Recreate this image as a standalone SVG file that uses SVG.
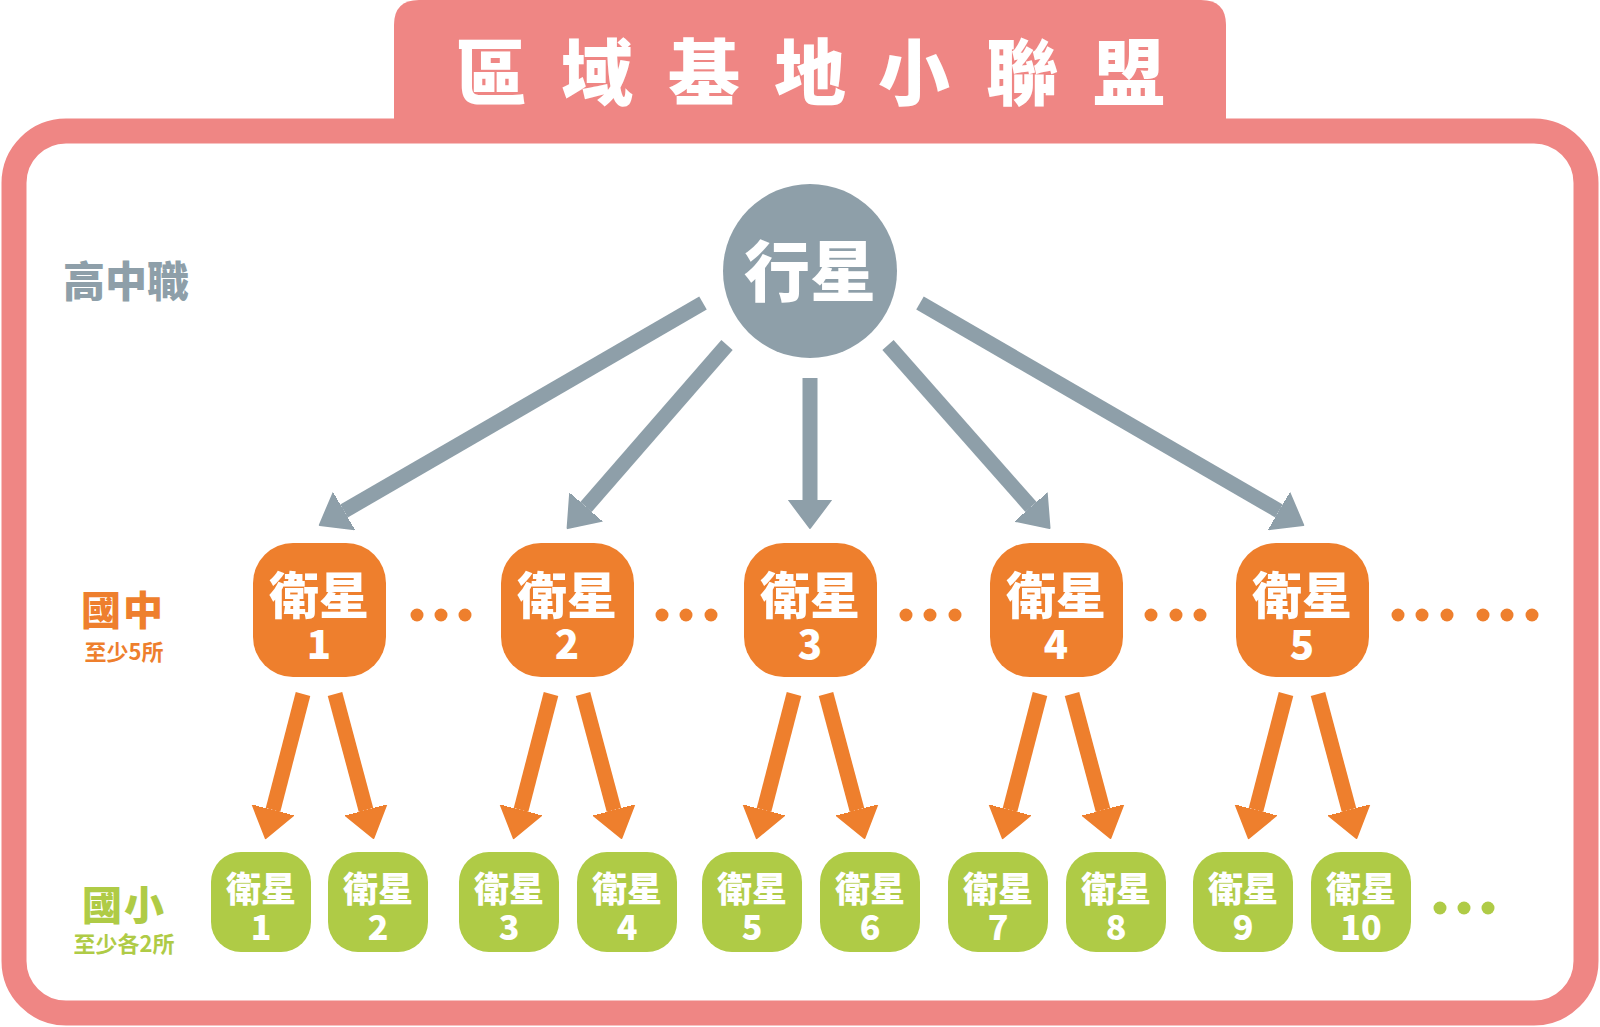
<svg xmlns="http://www.w3.org/2000/svg" width="1600" height="1027" viewBox="0 0 1600 1027">
<defs>
<style>
.t{font-family:"Noto Sans CJK TC","Noto Sans CJK SC",sans-serif;text-anchor:middle}
.w{fill:#FFFFFF}
.on{fill:#EE7F2D}
.gn{fill:#AFCB46}
.gray{fill:#8E9FA9}
.ga{stroke:#8E9FA9;stroke-width:15;fill:none}
.oa{stroke:#EE7F2D;stroke-width:15;fill:none}
.mt{font-size:50px;font-weight:900}
.mn{font-size:40px;font-weight:900}
.et{font-size:35px;font-weight:900}
.en{font-size:34px;font-weight:900}
</style>
<marker id="hg" markerUnits="userSpaceOnUse" markerWidth="30" markerHeight="44" refX="0" refY="22" orient="auto">
<path d="M0,1 L28,22 L0,43 Z" fill="#8E9FA9" stroke="#8E9FA9" stroke-width="2" stroke-linejoin="round"/>
</marker>
<marker id="ho" markerUnits="userSpaceOnUse" markerWidth="32" markerHeight="44" refX="0" refY="22" orient="auto">
<path d="M0,1 L29,22 L0,43 Z" fill="#EE7F2D" stroke="#EE7F2D" stroke-width="2" stroke-linejoin="round"/>
</marker>
</defs>
<rect x="0" y="0" width="1600" height="1027" fill="#FFFFFF"/>
<g id="frame">
<rect x="14" y="131" width="1572" height="882" rx="52" fill="#FFFFFF" stroke="#EF8684" stroke-width="25"/>
<path d="M394,132 V25 Q394,0 419,0 H1201 Q1226,0 1226,25 V132 Z" fill="#EF8684"/>
<text class="t w" x="491 597 704 810 914 1022 1129" y="99" font-size="72" font-weight="900">區域基地小聯盟</text>
</g>
<g id="labels">
<text class="t gray" x="126" y="297" font-size="42" font-weight="900">高中職</text>
<text class="t on" x="123" y="625" font-size="40" font-weight="900" letter-spacing="2">國中</text>
<text class="t on" x="124" y="660" font-size="22" font-weight="700">至少5所</text>
<text class="t gn" x="124" y="920" font-size="40" font-weight="900" letter-spacing="2">國小</text>
<text class="t gn" x="124" y="952" font-size="22" font-weight="700">至少各2所</text>
</g>
<g id="connectors">
<line class="ga" x1="703" y1="303" x2="344" y2="511" marker-end="url(#hg)"/>
<line class="ga" x1="727" y1="345" x2="586" y2="507" marker-end="url(#hg)"/>
<line class="ga" x1="810" y1="378" x2="810" y2="500" marker-end="url(#hg)"/>
<line class="ga" x1="888" y1="345" x2="1031" y2="507" marker-end="url(#hg)"/>
<line class="ga" x1="920" y1="303" x2="1279" y2="511" marker-end="url(#hg)"/>
<line class="oa" x1="303" y1="694" x2="273" y2="810" marker-end="url(#ho)"/>
<line class="oa" x1="335" y1="694" x2="366" y2="810" marker-end="url(#ho)"/>
<line class="oa" x1="551" y1="694" x2="521" y2="810" marker-end="url(#ho)"/>
<line class="oa" x1="583" y1="694" x2="614" y2="810" marker-end="url(#ho)"/>
<line class="oa" x1="794" y1="694" x2="764" y2="810" marker-end="url(#ho)"/>
<line class="oa" x1="826" y1="694" x2="857" y2="810" marker-end="url(#ho)"/>
<line class="oa" x1="1040" y1="694" x2="1010" y2="810" marker-end="url(#ho)"/>
<line class="oa" x1="1072" y1="694" x2="1103" y2="810" marker-end="url(#ho)"/>
<line class="oa" x1="1286" y1="694" x2="1256" y2="810" marker-end="url(#ho)"/>
<line class="oa" x1="1318" y1="694" x2="1349" y2="810" marker-end="url(#ho)"/>
</g>
<g id="planet">
<circle cx="810" cy="271" r="87" class="gray"/>
<text class="t w" x="810" y="296" font-size="66" font-weight="900">行星</text>
</g>
<g id="m1"><rect x="253" y="543" width="133" height="134" rx="40" class="on"/><text class="t w mt" x="319" y="614">衛星</text><text class="t w mn" x="319" y="659">1</text></g>
<g id="m2"><rect x="501" y="543" width="133" height="134" rx="40" class="on"/><text class="t w mt" x="567" y="614">衛星</text><text class="t w mn" x="567" y="659">2</text></g>
<g id="m3"><rect x="744" y="543" width="133" height="134" rx="40" class="on"/><text class="t w mt" x="810" y="614">衛星</text><text class="t w mn" x="810" y="659">3</text></g>
<g id="m4"><rect x="990" y="543" width="133" height="134" rx="40" class="on"/><text class="t w mt" x="1056" y="614">衛星</text><text class="t w mn" x="1056" y="659">4</text></g>
<g id="m5"><rect x="1236" y="543" width="133" height="134" rx="40" class="on"/><text class="t w mt" x="1302" y="614">衛星</text><text class="t w mn" x="1302" y="659">5</text></g>
<g id="mdots" class="on">
<circle cx="417" cy="615" r="6.5"/><circle cx="441" cy="615" r="6.5"/><circle cx="465" cy="615" r="6.5"/>
<circle cx="662" cy="615" r="6.5"/><circle cx="686" cy="615" r="6.5"/><circle cx="711" cy="615" r="6.5"/>
<circle cx="906" cy="615" r="6.5"/><circle cx="930" cy="615" r="6.5"/><circle cx="955" cy="615" r="6.5"/>
<circle cx="1151" cy="615" r="6.5"/><circle cx="1176" cy="615" r="6.5"/><circle cx="1200" cy="615" r="6.5"/>
<circle cx="1398" cy="615" r="6.5"/><circle cx="1422" cy="615" r="6.5"/><circle cx="1447" cy="615" r="6.5"/>
<circle cx="1483" cy="615" r="6.5"/><circle cx="1507" cy="615" r="6.5"/><circle cx="1532" cy="615" r="6.5"/>
</g>
<g id="e1"><rect x="211" y="852" width="100" height="100" rx="30" class="gn"/><text class="t w et" x="261" y="902">衛星</text><text class="t w en" x="261" y="940">1</text></g>
<g id="e2"><rect x="328" y="852" width="100" height="100" rx="30" class="gn"/><text class="t w et" x="378" y="902">衛星</text><text class="t w en" x="378" y="940">2</text></g>
<g id="e3"><rect x="459" y="852" width="100" height="100" rx="30" class="gn"/><text class="t w et" x="509" y="902">衛星</text><text class="t w en" x="509" y="940">3</text></g>
<g id="e4"><rect x="577" y="852" width="100" height="100" rx="30" class="gn"/><text class="t w et" x="627" y="902">衛星</text><text class="t w en" x="627" y="940">4</text></g>
<g id="e5"><rect x="702" y="852" width="100" height="100" rx="30" class="gn"/><text class="t w et" x="752" y="902">衛星</text><text class="t w en" x="752" y="940">5</text></g>
<g id="e6"><rect x="820" y="852" width="100" height="100" rx="30" class="gn"/><text class="t w et" x="870" y="902">衛星</text><text class="t w en" x="870" y="940">6</text></g>
<g id="e7"><rect x="948" y="852" width="100" height="100" rx="30" class="gn"/><text class="t w et" x="998" y="902">衛星</text><text class="t w en" x="998" y="940">7</text></g>
<g id="e8"><rect x="1066" y="852" width="100" height="100" rx="30" class="gn"/><text class="t w et" x="1116" y="902">衛星</text><text class="t w en" x="1116" y="940">8</text></g>
<g id="e9"><rect x="1193" y="852" width="100" height="100" rx="30" class="gn"/><text class="t w et" x="1243" y="902">衛星</text><text class="t w en" x="1243" y="940">9</text></g>
<g id="e10"><rect x="1311" y="852" width="100" height="100" rx="30" class="gn"/><text class="t w et" x="1361" y="902">衛星</text><text class="t w en" x="1361" y="940">10</text></g>
<g id="edots" class="gn">
<circle cx="1440" cy="908" r="6.5"/><circle cx="1464" cy="908" r="6.5"/><circle cx="1488" cy="908" r="6.5"/>
</g>
</svg>
